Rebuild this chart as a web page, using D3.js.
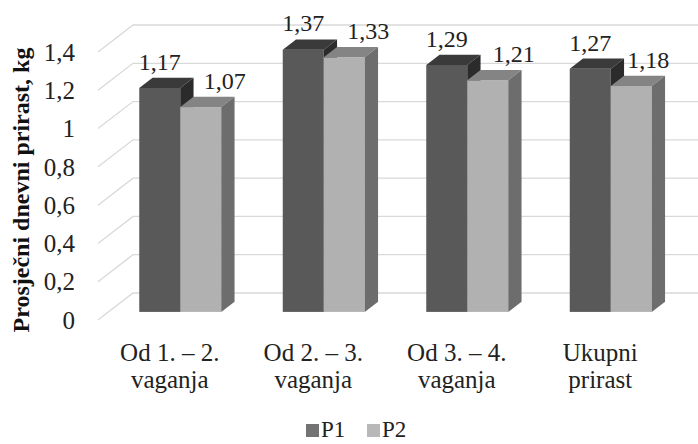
<!DOCTYPE html>
<html>
<head>
<meta charset="utf-8">
<script src="https://cdn.jsdelivr.net/npm/d3@7"></script>
<style>
  body { margin: 0; background: #fff; }
</style>
</head>
<body>
<div id="chart"></div>
<script>
// ========== DATA ==========
const categories = [["Od 1. – 2.", "vaganja"], ["Od 2. – 3.", "vaganja"], ["Od 3. – 4.", "vaganja"], ["Ukupni", "prirast"]];
const seriesNames = ["P1", "P2"];
const p1Values = [1.17, 1.37, 1.29, 1.27];
const p2Values = [1.07, 1.33, 1.21, 1.18];
const yTicks = [0, 0.2, 0.4, 0.6, 0.8, 1, 1.2, 1.4];

const width = 698, height = 444;
const DX = 35, DY = 27;        // depth offset of the back wall
const z0 = 0.3, z1 = 0.68;     // bar depth (fraction of the floor)
const FONT = "'Liberation Serif'";

const colors = {
  P1: { front: "#595959", top: "#3a3a3a", side: "#2b2b2b" },
  P2: { front: "#b1b1b1", top: "#848484", side: "#6d6d6d" }
};

const svg = d3.select("#chart").append("svg")
  .attr("width", width)
  .attr("height", height);

// scales on the front plane
const x0 = d3.scaleBand().domain(d3.range(categories.length)).range([98, 672]);
const x1 = d3.scaleBand().domain(seriesNames).range([0, x0.bandwidth()]).paddingOuter(0.75);
const y = d3.scaleLinear().domain([0, 1.4]).range([320, 52]);

const fmt = v => String(v).replace(".", ",");

// ========== GRIDLINES (side wall + back wall) ==========
const grid = svg.append("g").attr("stroke", "#d9d9d9").attr("stroke-width", 1.3).attr("fill", "none");
yTicks.forEach(v => {
  grid.append("path")
    .attr("d", `M${x0.range()[0]},${y(v)} L${x0.range()[0] + DX},${y(v) - DY} L${x0.range()[1] + DX},${y(v) - DY}`);
});

// ========== TICK LABELS ==========
svg.append("g")
  .selectAll("text")
  .data(yTicks)
  .join("text")
  .attr("x", 75)
  .attr("y", d => y(d))
  .attr("dy", "0.35em")
  .attr("text-anchor", "end")
  .attr("fill", "#222")
  .style("font-family", FONT)
  .style("font-size", "25px")
  .text(d => fmt(d));

// ========== BARS ==========
const bars = [];
categories.forEach((c, i) => {
  bars.push({ i, s: "P1", v: p1Values[i] });
  bars.push({ i, s: "P2", v: p2Values[i] });
});

const barG = svg.append("g");
bars.forEach(b => {
  const xl = x0(b.i) + x1(b.s);
  const xr = xl + x1.bandwidth();
  const c = colors[b.s];
  const px = (xx, z) => xx + z * DX;
  const py = (v, z) => y(v) - z * DY;

  // front
  barG.append("rect")
    .attr("x", px(xl, z0))
    .attr("y", py(b.v, z0))
    .attr("width", xr - xl)
    .attr("height", y(0) - y(b.v))
    .attr("fill", c.front);
  // top
  barG.append("polygon")
    .attr("points", [
      [px(xl, z0), py(b.v, z0)], [px(xr, z0), py(b.v, z0)],
      [px(xr, z1), py(b.v, z1)], [px(xl, z1), py(b.v, z1)]
    ].join(" "))
    .attr("fill", c.top);
  // side
  barG.append("polygon")
    .attr("points", [
      [px(xr, z0), py(b.v, z0)], [px(xr, z1), py(b.v, z1)],
      [px(xr, z1), py(0, z1)], [px(xr, z0), py(0, z0)]
    ].join(" "))
    .attr("fill", c.side);
});

// ========== VALUE LABELS ==========
const labelShift = { P1: [0, 0, 0, 0], P2: [24, 24, 26, 17] };
svg.append("g")
  .selectAll("text")
  .data(bars)
  .join("text")
  .attr("x", d => x0(d.i) + x1(d.s) + x1.bandwidth() / 2 + z0 * DX + labelShift[d.s][d.i])
  .attr("y", d => y(d.v) - z1 * DY - 8)
  .attr("text-anchor", "middle")
  .attr("fill", "#222")
  .style("font-family", FONT)
  .style("font-size", "24px")
  .text(d => fmt(d.v));

// ========== CATEGORY LABELS ==========
categories.forEach((d, i) => {
  const cx = x0(i) + x0.bandwidth() / 2;
  d.forEach((line, k) => {
    svg.append("text")
      .attr("x", cx)
      .attr("y", 361 + k * 27)
      .attr("text-anchor", "middle")
      .attr("fill", "#222")
      .style("font-family", FONT)
      .style("font-size", "25px")
      .text(line);
  });
});

// ========== Y TITLE ==========
svg.append("text")
  .attr("transform", "translate(29,190) rotate(-90)")
  .attr("text-anchor", "middle")
  .attr("fill", "#111")
  .style("font-family", FONT)
  .style("font-size", "24px")
  .style("font-weight", "bold")
  .text("Prosječni dnevni prirast, kg");

// ========== LEGEND ==========
const legendX = [306, 367];
seriesNames.forEach((s, k) => {
  svg.append("rect")
    .attr("x", legendX[k])
    .attr("y", 424)
    .attr("width", 13)
    .attr("height", 13)
    .attr("fill", k === 0 ? "#737373" : "#b8b8b8");
  svg.append("text")
    .attr("x", legendX[k] + 15)
    .attr("y", 437)
    .attr("fill", "#222")
    .style("font-family", FONT)
    .style("font-size", "23px")
    .text(s);
});
</script>
</body>
</html>
